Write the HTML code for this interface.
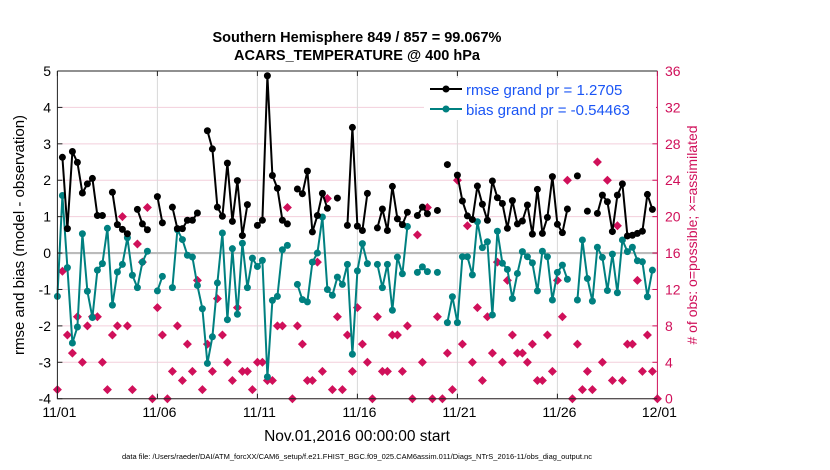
<!DOCTYPE html>
<html><head><meta charset="utf-8">
<style>
body{margin:0;background:#fff;}
svg{display:block;font-family:"Liberation Sans",sans-serif;}
</style></head>
<body>
<svg id="chart" width="830" height="470" viewBox="0 0 830 470" xmlns="http://www.w3.org/2000/svg">
<rect x="0" y="0" width="830" height="470" fill="#fff"/>
<text x="357" y="42" text-anchor="middle" font-size="14.5" font-weight="bold">Southern Hemisphere 849 / 857 = 99.067%</text>
<text x="357" y="60" text-anchor="middle" font-size="14.5" font-weight="bold">ACARS_TEMPERATURE @ 400 hPa</text>
<g id="grid"></g>
<g id="obs"></g>
<g id="bias"></g>
<g id="rmse"></g>
<g id="axes"></g>
<g id="legend">
  <rect x="424" y="78" width="232" height="42" fill="#fff"/>
  <line x1="430" y1="89" x2="462" y2="89" stroke="#000" stroke-width="2"/>
  <circle cx="446" cy="89" r="3.5" fill="#000"/>
  <text x="466" y="95" font-size="15" fill="#1a55f5">rmse grand pr = 1.2705</text>
  <line x1="430" y1="109" x2="462" y2="109" stroke="#008080" stroke-width="2"/>
  <circle cx="446" cy="109" r="3.5" fill="#008080"/>
  <text x="466" y="115" font-size="15" fill="#1a55f5">bias grand pr = -0.54463</text>
</g>
<text transform="translate(24,235) rotate(-90)" text-anchor="middle" font-size="15">rmse and bias (model - observation)</text>
<text transform="translate(697,235) rotate(-90)" text-anchor="middle" font-size="14" fill="#d0105a">&#35; of obs: o=possible; &#215;=assimilated</text>
<text x="357" y="441" text-anchor="middle" font-size="15.5">Nov.01,2016 00:00:00 start</text>
<text x="357" y="459" text-anchor="middle" font-size="7.5">data file: /Users/raeder/DAI/ATM_forcXX/CAM6_setup/f.e21.FHIST_BGC.f09_025.CAM6assim.011/Diags_NTrS_2016-11/obs_diag_output.nc</text>
</svg>
<script>
const xTickLabels=["11/01","11/06","11/11","11/16","11/21","11/26","12/01"];
const yTicksLeft=[5,4,3,2,1,0,-1,-2,-3,-4];
const yTicksRight=[0,4,8,12,16,20,24,28,32,36];
const N=null;
const rmse=[N,2.63,0.67,2.79,2.49,1.65,1.9,2.05,1.03,1.03,N,1.67,0.78,0.65,0.53,N,1.2,0.8,0.64,N,
1.55,0.83,N,1.26,0.67,0.67,0.9,0.9,1.1,N,3.36,2.86,1.26,1.01,2.47,0.87,1.99,0.48,1.33,N,
0.76,0.9,4.87,2.13,1.78,0.9,0.8,N,1.76,1.63,2.25,0.58,1.03,1.64,1.23,N,1.51,N,0.76,3.45,
0.74,0.62,1.64,N,0.69,1.21,0.62,1.83,0.94,0.78,1.12,N,1.03,1.26,1.08,N,1.17,N,2.43,N,
2.14,1.43,1.02,0.92,1.84,1.34,0.9,1.98,1.52,1.36,0.68,1.44,0.8,0.88,1.32,0.52,1.75,0.54,0.98,2.1,
0.79,0.56,1.21,N,2.12,N,1.15,N,1.09,1.59,1.41,0.59,1.59,1.9,0.47,0.49,0.54,0.6,1.61,1.2];
const bias=[-1.19,1.58,-0.4,-2.47,-2.03,0.53,-1.05,-1.77,-0.47,-0.29,0.68,-1.43,-0.52,-0.31,0.42,-0.61,-0.95,-0.25,0.05,N,
-1.04,-0.64,N,-0.95,0.64,0.37,-0.06,-0.11,-0.89,-1.53,-3.03,-2.3,-0.82,0.55,-1.83,0.12,-1.68,0.27,-0.95,-0.14,
-0.37,-0.2,-3.4,-1.3,-1.19,0.09,0.21,N,-0.86,-1.28,-1.34,-0.25,0,0.99,-1.0,-1.16,-0.66,-0.86,-0.31,-2.78,
-0.49,0.26,-0.29,N,-0.31,-0.95,-0.31,-1.57,-0.11,-0.57,0.73,N,-0.53,-0.38,-0.51,N,-0.53,N,-1.91,-1.2,
-1.91,-0.1,-0.1,-0.6,0.86,0.15,0.31,-1.7,0.6,-0.28,-0.45,-1.25,-0.56,0.04,-0.1,-0.27,-1.04,0.05,-0.1,-1.29,
-0.53,-0.33,-0.72,N,-1.29,0.36,-0.7,-1.32,0.16,-0.12,-1.03,-0.03,-1.09,0.36,0.04,0.16,-0.21,-0.24,-1.2,-0.47];
const obsCount=[1,14,7,5,9,4,8,9,9,4,1,7,8,20,8,1,17,15,21,0,
10,7,0,3,8,2,6,3,13,1,6,3,11,7,4,2,10,3,3,1,
4,4,2,2,8,8,21,0,8,6,2,2,15,3,22,1,9,1,7,3,
10,6,4,0,9,3,3,7,7,3,8,0,18,4,21,0,9,0,5,1,
24,6,19,4,10,2,9,5,15,4,13,7,5,5,4,6,2,2,7,3,
13,9,24,0,6,1,3,1,26,4,24,2,19,2,6,6,13,3,7,3,0];

const svgNS="http://www.w3.org/2000/svg";
const X0=57.4,X1=657.4,Y5=71,Ym4=398.7;
const xScale=i=>X0+(X1-X0)*i/120;
const yL=v=>Y5+(5-v)*(Ym4-Y5)/9;
const yR=c=>Ym4-c*(Ym4-Y5)/36;
function mk(tag,attrs,parent){const e=document.createElementNS(svgNS,tag);for(const k in attrs)e.setAttribute(k,attrs[k]);parent.appendChild(e);return e;}
const grid=document.getElementById('grid'),axes=document.getElementById('axes');
yTicksRight.forEach(c=>{const l=mk('line',{x1:X0,x2:X1,y1:yR(c),y2:yR(c),stroke:'#f3cfdc','stroke-width':1},grid);

});
xTickLabels.forEach((t,k)=>{const x=xScale(k*20);
 if(k>0&&k<6){const l=mk('line',{x1:x,x2:x,y1:Y5,y2:Ym4,stroke:'#d8d8d8','stroke-width':1},grid);
 
 }
 const tx=mk('text',{x:x+2,y:417,'text-anchor':'middle','font-size':14},axes);tx.textContent=t;
 
 
 mk('line',{x1:x,x2:x,y1:Ym4,y2:Ym4-5,stroke:'#222'},axes);
 mk('line',{x1:x,x2:x,y1:Y5,y2:Y5+5,stroke:'#222'},axes);
});
const zl=mk('line',{x1:X0,x2:X1,y1:yL(0),y2:yL(0),stroke:'#bbb','stroke-width':2.2},grid);


yTicksLeft.forEach(v=>{const t=mk('text',{x:51,y:yL(v)+5,'text-anchor':'end','font-size':14},axes);t.textContent=v;
 
 
 mk('line',{x1:X0,x2:X0+5,y1:yL(v),y2:yL(v),stroke:'#222'},axes);});
yTicksRight.forEach(c=>{const t=mk('text',{x:665,y:yR(c)+5,'font-size':14,fill:'#d0105a'},axes);t.textContent=c;
 
 
 mk('line',{x1:X1-5,x2:X1,y1:yR(c),y2:yR(c),stroke:'#d0105a'},axes);});
const box=mk('path',{d:`M${X0},${Y5}H${X1}M${X0},${Y5}V${Ym4}H${X1}`,fill:'none',stroke:'#222','stroke-width':1},axes);


const ra=mk('line',{x1:X1,x2:X1,y1:Y5,y2:Ym4,stroke:'#d0105a','stroke-width':1},axes);



const og=document.getElementById('obs');
obsCount.forEach((c,i)=>{if(c==null)return;const x=xScale(i),y=yR(c);
 const p=mk('path',{d:`M${x},${y-4.5}L${x+4.5},${y}L${x},${y+4.5}L${x-4.5},${y}Z`,fill:'#d0105a'},og);
 
 });
function series(arr,gid,color,name){
 const g=document.getElementById(gid);let d='';let pen=false;
 arr.forEach((v,i)=>{if(v==null){pen=false;return;}d+=(pen?'L':'M')+xScale(i).toFixed(1)+','+yL(v).toFixed(1);pen=true;});
 const pl=mk('path',{d:d,fill:'none',stroke:color,'stroke-width':2,'stroke-linejoin':'round'},g);
 
 
 arr.forEach((v,i)=>{if(v==null)return;const c=mk('circle',{cx:xScale(i),cy:yL(v),r:3.5,fill:color},g);
 
 });
}
series(bias,'bias','#008080','bias');
series(rmse,'rmse','#000','rmse');
</script>
</body></html>
